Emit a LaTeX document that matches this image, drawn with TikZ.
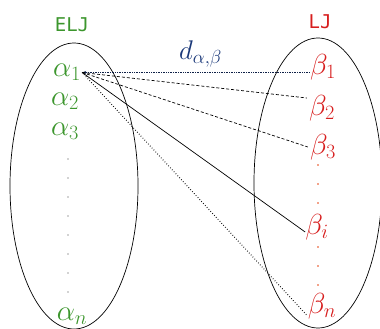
\RequirePackage{fix-cm}
\documentclass[tikz,border=0pt]{standalone}
\usepackage{amsmath}
\usepackage{fontspec}
\newfontfamily\setfont{DejaVu Sans Mono}
\usetikzlibrary{arrows.meta}

\definecolor{eljgreen}{RGB}{60,150,45}
\definecolor{ljred}{RGB}{215,30,30}
\definecolor{dblue}{RGB}{25,55,120}

\begin{document}
\begin{tikzpicture}[
  x=1pt, y=-1pt, >=Stealth,
  el/.style={inner sep=0pt, text=eljgreen, font=\fontsize{29}{32}\selectfont},
  lj/.style={inner sep=0pt, text=ljred, font=\fontsize{29}{32}\selectfont},
  setname/.style={inner sep=0pt, font=\setfont\fontsize{19}{22}\selectfont},
  pairline/.style={line width=0.7pt},
  gdot/.style={circle, fill=gray!70, inner sep=0pt, minimum size=1.8pt},
  rdot/.style={circle, fill=ljred!60!orange, inner sep=0pt, minimum size=1.8pt},
]
  \useasboundingbox (0,0) rectangle (380,329);

  % the two sets
  \draw[line width=0.7pt] (74,186) ellipse (64 and 143);
  \draw[line width=0.7pt] (318,183) ellipse (64 and 145);
  \node[setname, text=eljgreen] (elj) at (72,25) {ELJ};
  \node[setname, text=ljred]    (lj)  at (320,22) {LJ};

  % left elements
  \node[el] (a1) at (67,72)  {$\alpha_1$};
  \node[el] (a2) at (65,101) {$\alpha_2$};
  \node[el] (a3) at (65,131) {$\alpha_3$};
  \node[el] (an) at (72,316) {$\alpha_n$};
  \foreach \y [count=\i] in {159,178,197,216,235,254,273,292}
    \node[gdot] (ldot\i) at (68,\y) {};

  % right elements
  \node[lj] (b1) at (323,67)  {$\beta_1$};
  \node[lj] (b2) at (322,108) {$\beta_2$};
  \node[lj] (b3) at (323,147) {$\beta_3$};
  \node[lj] (bi) at (317,227) {$\beta_i$};
  \node[lj] (bn) at (322,306) {$\beta_n$};
  \foreach \y [count=\i] in {165,184,203}
    \node[rdot] (rdot\i) at (318,\y) {};
  \foreach \y [count=\i] in {247,266,285}
    \node[rdot] (sdot\i) at (318,\y) {};

  % distances
  \coordinate (a1e) at ([xshift=1pt,yshift=-0.5pt]a1.east);
  \draw[pairline, densely dotted, line width=0.9pt, dblue!60!black, <-, >={Stealth[length=4pt,width=3pt]}]
    (a1e) -- (b1.west |- a1e)
    node[pos=0.52, above=5pt, text=dblue, font=\fontsize{27}{30}\selectfont, inner sep=0pt] (dab)
    {$d_{\alpha,\beta}$};
  \draw[pairline, densely dashed] (a1e) -- ([xshift=-2pt,yshift=10pt]b2.west);
  \draw[pairline, densely dashed] (a1e) -- ([xshift=-2pt]b3.west);
  \draw[pairline] (a1e) -- ([yshift=-5pt]bi.west);
  \draw[pairline, dotted, line width=1pt] (a1e) -- ([xshift=-1pt,yshift=-9pt]bn.west);
\end{tikzpicture}
\end{document}
